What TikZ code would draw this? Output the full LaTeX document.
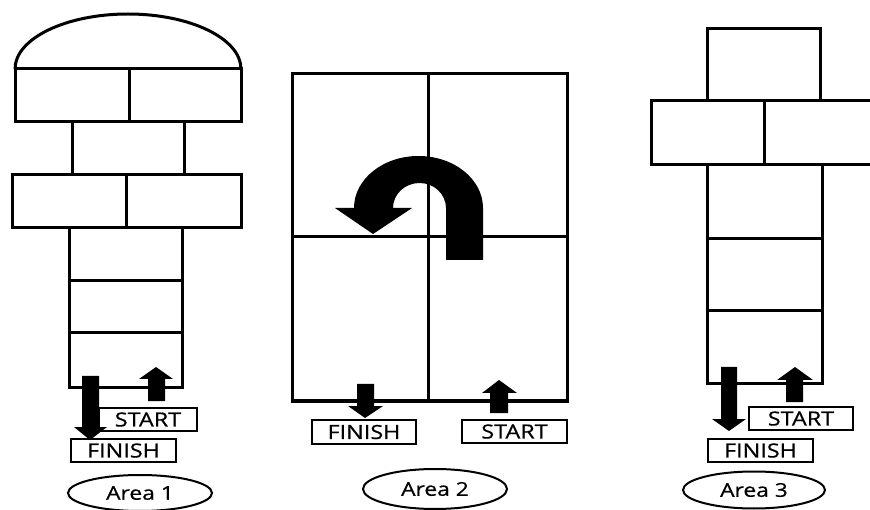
\documentclass[tikz,border=0pt]{standalone}
\usepackage{fontspec}
\setmainfont{Open Sans}[FakeStretch=1.2,FakeBold=0.6]
\usetikzlibrary{shapes.geometric}
\begin{document}
\begin{tikzpicture}[x=1pt,y=1pt,yscale=-1,
  brick/.style={draw=black,line width=3pt},
  grid/.style={draw=black,line width=3pt},
  arr/.style={fill=black},
  lbl/.style={draw=black,line width=1.2pt,rectangle,inner sep=0pt,
    minimum height=23pt,font=\fontsize{19.5}{21}\selectfont},
  area/.style={draw=black,line width=2pt,ellipse,inner sep=0pt,
    font=\fontsize{19}{21}\selectfont}]
\useasboundingbox (0,0) rectangle (870,510);
% ---------- Area 1 ----------
\draw[brick] (241,69) arc[start angle=0,end angle=-180,x radius=113,y radius=55];
\draw[brick] (15,69) rectangle (241,122);
\draw[brick] (129,69) -- (129,122);
\draw[brick] (72,122) rectangle (184,175);
\draw[brick] (12,175) rectangle (241,228);
\draw[brick] (126,175) -- (126,228);
\draw[brick] (69,228) rectangle (182,281);
\draw[brick] (69,281) rectangle (182,333);
\draw[brick] (69,333) rectangle (182,388);
\fill[arr] (82,376) -- (99,376) -- (99,427) -- (107,427) -- (90,440) -- (74,427) -- (82,427) -- cycle;
\fill[arr] (148,401) -- (165,401) -- (165,379) -- (173,379) -- (156,367) -- (139,379) -- (148,379) -- cycle;
\node[lbl,minimum width=98pt] (s1) at (148,419.5) {START};
\node[lbl,minimum width=105pt] (f1) at (123.5,450.5) {FINISH};
\node[area,minimum width=144pt,minimum height=36pt] (a1) at (140,493) {Area 1};
% ---------- Area 2 ----------
\draw[grid] (292,74) rectangle (567,401);
\draw[grid] (428,74) -- (428,401);
\draw[grid] (292,237) -- (567,237);
\fill[arr] (446,260) -- (483,260) -- (483,208)
  arc[start angle=0,end angle=-180,x radius=64.5,y radius=52]
  -- (335,208) -- (373,234) -- (412,208) -- (393,208)
  arc[start angle=-180,end angle=0,x radius=26.5,y radius=25] -- cycle;
\fill[arr] (357,384) -- (374,384) -- (374,406) -- (383,406) -- (365,418) -- (348,406) -- (357,406) -- cycle;
\fill[arr] (490,413) -- (508,413) -- (508,393) -- (517,393) -- (499,380) -- (482,393) -- (490,393) -- cycle;
\node[lbl,minimum width=104pt,minimum height=24pt] (f2) at (364,432) {FINISH};
\node[lbl,minimum width=105pt] (s2) at (514.5,431.5) {START};
\node[area,minimum width=144pt,minimum height=40pt] (a2) at (435,489) {Area 2};
% ---------- Area 3 ----------
\draw[brick] (707,29) rectangle (820,101);
\draw[brick] (875,101) -- (651,101) -- (651,165) -- (875,165);
\draw[brick] (764,101) -- (764,165);
\draw[brick] (707,165) rectangle (822,239);
\draw[brick] (707,239) rectangle (822,311);
\draw[brick] (707,311) rectangle (822,384);
\fill[arr] (721,367) -- (737,367) -- (737,419) -- (746,419) -- (729,431) -- (712,419) -- (721,419) -- cycle;
\fill[arr] (786,402) -- (803,402) -- (803,380) -- (813,380) -- (795,367) -- (777,380) -- (786,380) -- cycle;
\node[lbl,minimum width=104pt] (s3) at (801,418.5) {START};
\node[lbl,minimum width=105pt] (f3) at (760.5,450.5) {FINISH};
\node[area,minimum width=142pt,minimum height=37pt] (a3) at (754,490) {Area 3};
\end{tikzpicture}
\end{document}
